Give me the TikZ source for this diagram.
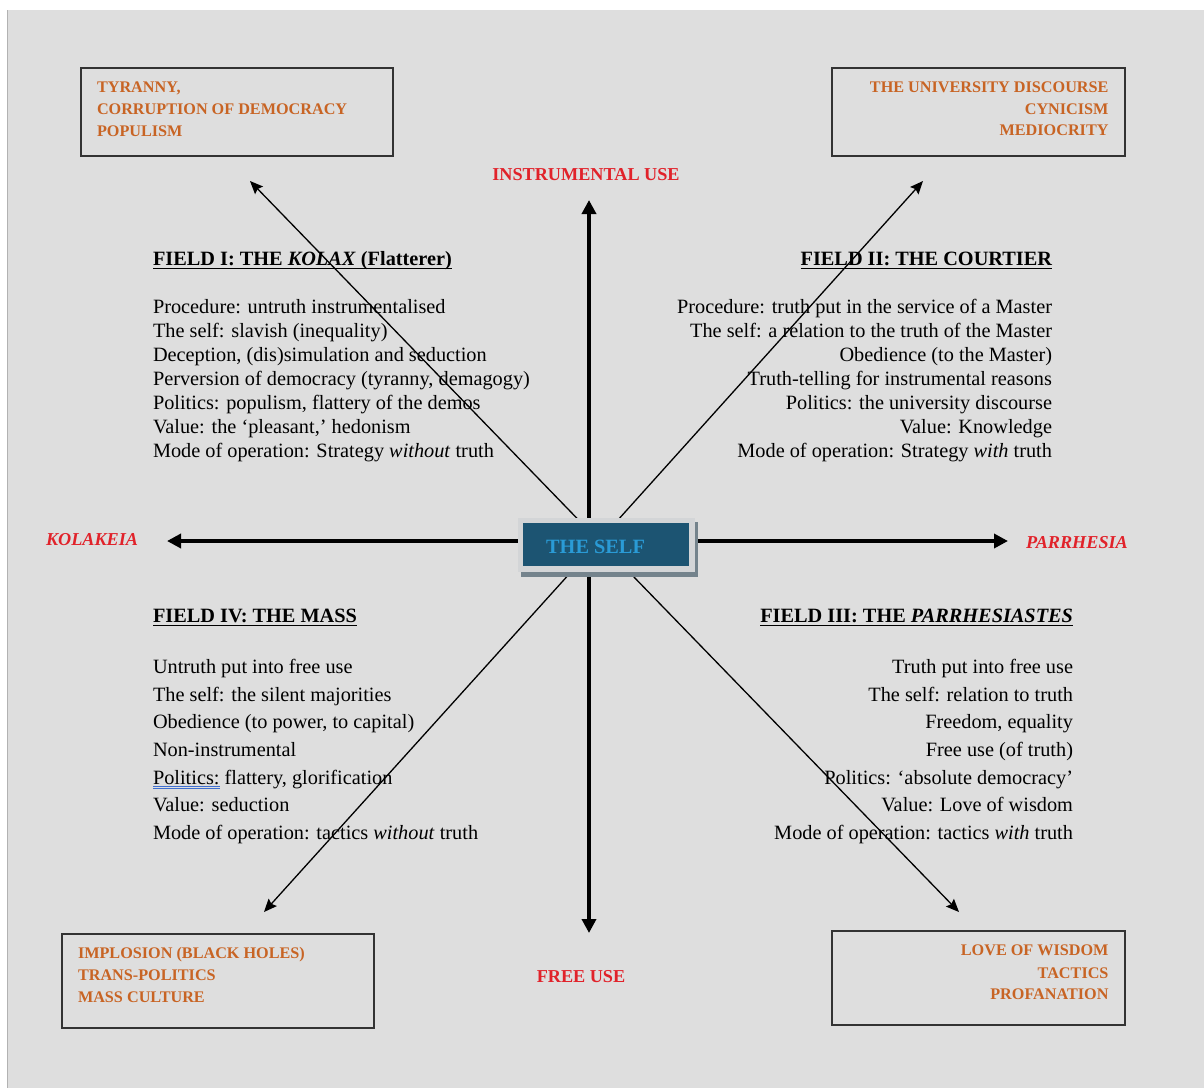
\documentclass[tikz,border=0pt]{standalone}
\usepackage{fontspec}
\setmainfont{Liberation Serif}
\usetikzlibrary{arrows.meta}
\definecolor{bg}{HTML}{DEDEDE}
\definecolor{orng}{HTML}{C86424}
\definecolor{redl}{HTML}{E1222A}
\definecolor{selfblue}{HTML}{1C5472}
\definecolor{selftext}{HTML}{2A9BD6}
\definecolor{framegray}{HTML}{D3D5D7}
\definecolor{shadowgray}{HTML}{74838C}
\definecolor{spellblue}{HTML}{3F6FD0}
\newcommand\spellul[1]{\setbox0\hbox{#1}\rlap{\color{spellblue}\rule[-2.6pt]{\wd0}{0.6pt}}\rlap{\color{spellblue}\rule[-4.8pt]{\wd0}{0.6pt}}\box0\relax}
\begin{document}
\begin{tikzpicture}[x=1pt,y=-1pt,
  body/.style={inner sep=0pt, outer sep=0pt, font=\fontsize{20.3}{24}\selectfont, text=black},
  head/.style={inner sep=0pt, outer sep=0pt, font=\fontsize{20.3}{24}\selectfont\bfseries, text=black},
  outc/.style={inner sep=0pt, outer sep=0pt, font=\fontsize{16.2}{22}\selectfont\bfseries, text=orng},
  axlabel/.style={inner sep=0pt, outer sep=0pt, font=\fontsize{18.2}{22}\selectfont\bfseries, text=redl},
  outbox/.style={draw=black!80, line width=1.4pt, inner sep=0pt, outer sep=0pt, anchor=north west},
  thickarrow/.style={line width=4.3pt, -{Triangle[length=14pt,width=14pt]}},
  thinarrow/.style={line width=1.3pt, -{Stealth[length=13pt,width=11pt,inset=2pt]}},
  uline/.style={line width=1.3pt},
]
\useasboundingbox (0,0) rectangle (1204,1088);
\fill[white] (0,0) rectangle (1204,1088);
\fill[bg] (8,10) rectangle (1204,1088);
\draw[black!30, line width=1.2pt] (7.6,10) -- (7.6,1088);

% outcome boxes
\node[outbox, minimum width=312, minimum height=88] (oTL) at (81,68) {};
\node[outc, anchor=base west] (oTL1) at (97,92.3) {TYRANNY,};
\node[outc, anchor=base west] (oTL2) at (97,114.5) {CORRUPTION OF DEMOCRACY};
\node[outc, anchor=base west] (oTL3) at (97,136.7) {POPULISM};

\node[outbox, minimum width=293, minimum height=88] (oTR) at (832,68) {};
\node[outc, anchor=base east] (oTR1) at (1108.5,92.3) {THE UNIVERSITY DISCOURSE};
\node[outc, anchor=base east] (oTR2) at (1108.5,114.3) {CYNICISM};
\node[outc, anchor=base east] (oTR3) at (1108.5,135.9) {MEDIOCRITY};

\node[outbox, minimum width=312, minimum height=94] (oBL) at (62,934) {};
\node[outc, anchor=base west] (oBL1) at (78,958.5) {IMPLOSION (BLACK HOLES)};
\node[outc, anchor=base west] (oBL2) at (78,980.5) {TRANS-POLITICS};
\node[outc, anchor=base west] (oBL3) at (78,1002) {MASS CULTURE};

\node[outbox, minimum width=293, minimum height=94] (oBR) at (832,931) {};
\node[outc, anchor=base east] (oBR1) at (1108.5,955.7) {LOVE OF WISDOM};
\node[outc, anchor=base east] (oBR2) at (1108.5,978) {TACTICS};
\node[outc, anchor=base east] (oBR3) at (1108.5,999.5) {PROFANATION};

% axis labels
\node[axlabel, anchor=base] (lN) at (586,180) {INSTRUMENTAL USE};
\node[axlabel, anchor=base] (lS) at (581,982) {FREE USE};
\node[axlabel, anchor=base west] (lW) at (46,545.7) {\itshape KOLAKEIA};
\node[axlabel, anchor=base west] (lE) at (1026,548) {\itshape PARRHESIA};

% Field I
\node[head, anchor=base west] (h1) at (153,265) {FIELD I: THE \textit{KOLAX} (Flatterer)};
\draw[uline] ([yshift=-3.2pt]h1.base west) -- ([yshift=-3.2pt]h1.base east);
\node[body, anchor=base west] (a1) at (153,313) {Procedure: untruth instrumentalised};
\node[body, anchor=base west] (a2) at (153,337) {The self: slavish (inequality)};
\node[body, anchor=base west] (a3) at (153,361) {Deception, (dis)simulation and seduction};
\node[body, anchor=base west] (a4) at (153,385) {Perversion of democracy (tyranny, demagogy)};
\node[body, anchor=base west] (a5) at (153,409) {Politics: populism, flattery of the demos};
\node[body, anchor=base west] (a6) at (153,433) {Value: the ‘pleasant,’ hedonism};
\node[body, anchor=base west] (a7) at (153,457) {Mode of operation: Strategy \textit{without} truth};

% Field II
\node[head, anchor=base east] (h2) at (1052,265) {FIELD II: THE COURTIER};
\draw[uline] ([yshift=-3.2pt]h2.base west) -- ([yshift=-3.2pt]h2.base east);
\node[body, anchor=base east] (b1) at (1052,313) {Procedure: truth put in the service of a Master};
\node[body, anchor=base east] (b2) at (1052,337) {The self: a relation to the truth of the Master};
\node[body, anchor=base east] (b3) at (1052,361) {Obedience (to the Master)};
\node[body, anchor=base east] (b4) at (1052,385) {Truth-telling for instrumental reasons};
\node[body, anchor=base east] (b5) at (1052,409) {Politics: the university discourse};
\node[body, anchor=base east] (b6) at (1052,433) {Value: Knowledge};
\node[body, anchor=base east] (b7) at (1052,457) {Mode of operation: Strategy \textit{with} truth};

% Field IV
\node[head, anchor=base west] (h4) at (153,622) {FIELD IV: THE MASS};
\draw[uline] ([yshift=-3.2pt]h4.base west) -- ([yshift=-3.2pt]h4.base east);
\node[body, anchor=base west] (d1) at (153,673.3) {Untruth put into free use};
\node[body, anchor=base west] (d2) at (153,701) {The self: the silent majorities};
\node[body, anchor=base west] (d3) at (153,728.7) {Obedience (to power, to capital)};
\node[body, anchor=base west] (d4) at (153,756.4) {Non-instrumental};
\node[body, anchor=base west] (d5) at (153,784.1) {\spellul{Politics:} flattery, glorification};
\node[body, anchor=base west] (d6) at (153,811.8) {Value: seduction};
\node[body, anchor=base west] (d7) at (153,839.5) {Mode of operation: tactics \textit{without} truth};

% Field III
\node[head, anchor=base east] (h3) at (1073,622) {FIELD III: THE \textit{PARRHESIASTES}};
\draw[uline] ([yshift=-3.2pt]h3.base west) -- ([yshift=-3.2pt]h3.base east);
\node[body, anchor=base east] (c1) at (1073,673.3) {Truth put into free use};
\node[body, anchor=base east] (c2) at (1073,701) {The self: relation to truth};
\node[body, anchor=base east] (c3) at (1073,728.7) {Freedom, equality};
\node[body, anchor=base east] (c4) at (1073,756.4) {Free use (of truth)};
\node[body, anchor=base east] (c5) at (1073,784.1) {Politics: ‘absolute democracy’};
\node[body, anchor=base east] (c6) at (1073,811.8) {Value: Love of wisdom};
\node[body, anchor=base east] (c7) at (1073,839.5) {Mode of operation: tactics \textit{with} truth};

% connectors
\coordinate (ax) at (589,541);
\coordinate (tN) at (589,200);
\coordinate (tS) at (589,933);
\coordinate (tW) at (167,541);
\coordinate (tE) at (1008,541);
\coordinate (hub) at (599,541);
\coordinate (dNW) at (250,181);
\coordinate (dNE) at (923,181);
\coordinate (dSW) at (264,912);
\coordinate (dSE) at (959,912);
\draw[thickarrow] (ax) -- (tN);
\draw[thickarrow] (ax) -- (tS);
\draw[thickarrow] (ax) -- (tW);
\draw[thickarrow] (ax) -- (tE);
\draw[thinarrow] (hub) -- (dNW);
\draw[thinarrow] (hub) -- (dNE);
\draw[thinarrow] (hub) -- (dSW);
\draw[thinarrow] (hub) -- (dSE);

% center box
\fill[shadowgray] (521,522) rectangle (697.5,577);
\node[fill=framegray, inner sep=0pt, outer sep=0pt, minimum width=177, minimum height=54, anchor=north west] (frame) at (518,518) {};
\node[fill=selfblue, inner sep=0pt, outer sep=0pt, minimum width=166, minimum height=43, anchor=north west] (selfbox) at (523,523) {};
\node[inner sep=0pt, font=\fontsize{20.3}{24}\selectfont\bfseries, text=selftext, anchor=base west] (self) at (546,553) {THE SELF};
\end{tikzpicture}
\end{document}
